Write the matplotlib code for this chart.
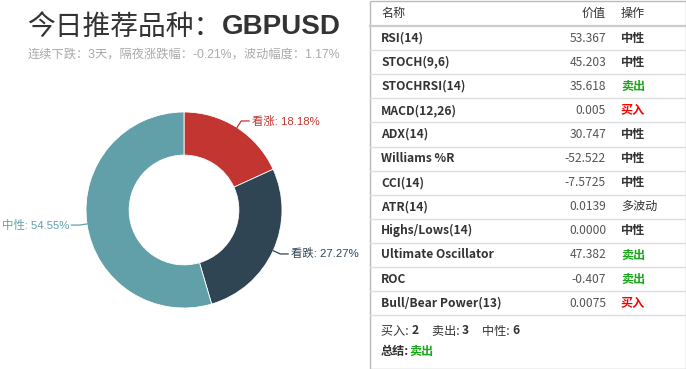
import matplotlib
matplotlib.use("Agg")
import matplotlib.pyplot as plt
from matplotlib.lines import Line2D
from matplotlib.patches import Rectangle
import numpy as np

plt.rcParams['font.family'] = ['Noto Sans CJK SC', 'DejaVu Sans']

# ---- data ----
title_cn = "今日推荐品种："
title_code = "GBPUSD"
subtitle = "连续下跌：3天，隔夜涨跌幅：-0.21%，波动幅度：1.17%"
pie_labels = ["看涨", "看跌", "中性"]
pie_values = [18.18, 27.27, 54.55]
pie_colors = ["#c23531", "#2f4554", "#61a0a8"]

ind_names = ["RSI(14)", "STOCH(9,6)", "STOCHRSI(14)", "MACD(12,26)", "ADX(14)",
             "Williams %R", "CCI(14)", "ATR(14)", "Highs/Lows(14)",
             "Ultimate Oscillator", "ROC", "Bull/Bear Power(13)"]
ind_values = ["53.367", "45.203", "35.618", "0.005", "30.747", "-52.522",
              "-7.5725", "0.0139", "0.0000", "47.382", "-0.407", "0.0075"]
ind_actions = ["中性", "中性", "卖出", "买入", "中性", "中性", "中性",
               "多波动", "中性", "卖出", "卖出", "买入"]
summary_counts = [("买入", 2), ("卖出", 3), ("中性", 6)]
summary_result = "卖出"

W, H = 686, 369
fig = plt.figure(figsize=(W / 100, H / 100), dpi=100)
fig.patch.set_facecolor("white")
r = fig.canvas.get_renderer()


def fx(x):
    return x / W


def fy(y):
    return 1 - y / H


def ftext(x, y, s, **kw):
    kw.setdefault("va", "center")
    return fig.text(fx(x), fy(y), s, **kw)


def hline(x0, x1, y, color="#dddddd", lw=1.0):
    fig.add_artist(Line2D([fx(x0), fx(x1)], [fy(y), fy(y)], color=color, lw=lw,
                          transform=fig.transFigure))


# ---- title (two parts, centred together) ----
t1 = ftext(0, 27, title_cn, fontsize=20, color="#333333", weight="medium",
           family=["Noto Sans CJK SC"])
t2 = ftext(0, 27, title_code, fontsize=20, color="#333333", weight="bold",
           family=["Liberation Sans"])
w1 = t1.get_window_extent(renderer=r).width
w2 = t2.get_window_extent(renderer=r).width
start = 184 - (w1 + w2) / 2
t1.set_x(fx(start))
t2.set_x(fx(start + w1))

ftext(184, 55, subtitle, ha="center", fontsize=8.8, color="#aaaaaa",
      family=["Liberation Sans", "Noto Sans CJK SC"])

# ---- donut ----
cx, cy, R = 184, 210, 98
ax = fig.add_axes([fx(cx - R), fy(cy + R), 2 * R / W, 2 * R / H])
ax.axis("off")
ax.pie(pie_values, colors=pie_colors, startangle=90, counterclock=False,
       radius=1.0, wedgeprops=dict(width=0.44, edgecolor="white", linewidth=0.6))
ax.set_aspect("auto")
ax.set_xlim(-1, 1)
ax.set_ylim(-1, 1)

cum = 0
total = sum(pie_values)
for lab, v, c in zip(pie_labels, pie_values, pie_colors):
    mid = 90 - (cum + v / 2) / total * 360
    cum += v
    a = np.deg2rad(mid)
    x0, y0 = np.cos(a) * 1.0, np.sin(a) * 1.0
    x1, y1 = np.cos(a) * 1.08, np.sin(a) * 1.08
    sgn = 1 if np.cos(a) >= 0 else -1
    x2 = x1 + sgn * 0.08
    ax.plot([x0, x1, x2], [y0, y1, y1], color=c, lw=0.9, clip_on=False)
    ax.text(x2 + sgn * 0.025, y1, f"{lab}: {v:.2f}%", color=c, fontsize=8.2,
            ha="left" if sgn > 0 else "right", va="center", clip_on=False,
            family=["Liberation Sans", "Noto Sans CJK SC"])

# ---- table ----
tx0, tx1 = 369.5, 685.5
fig.add_artist(Rectangle((fx(tx0), fy(368.5)), (tx1 - tx0) / W, 368 / H,
                         transform=fig.transFigure, fill=False, ec="#bbbbbb", lw=1.0))
name_x, val_x, act_x = 381, 606, 621
fs = 8.7
ftext(name_x, 13, "名称", fontsize=fs, color="#333333")
ftext(val_x, 13, "价值", fontsize=fs, color="#333333", ha="right")
ftext(act_x, 13, "操作", fontsize=fs, color="#333333")
hline(tx0, tx1, 26, color="#cccccc", lw=1.6)

action_colors = {"中性": "#333333", "卖出": "#1aa51a", "买入": "#ff0000", "多波动": "#333333"}
row_h = 24.1
for i, (n, v, a) in enumerate(zip(ind_names, ind_values, ind_actions)):
    yc = 26 + row_h * (i + 0.5)
    ftext(name_x, yc, n, fontsize=fs, color="#333333", weight="bold")
    ftext(val_x, yc, v, fontsize=fs, color="#555555", ha="right")
    ftext(act_x, yc, a, fontsize=fs, color=action_colors[a],
          weight="normal" if a == "多波动" else "bold")
    hline(tx0, tx1, 26 + row_h * (i + 1))

# summary
x = 381
ys = 331
for lab, cnt in summary_counts:
    t = ftext(x, ys, f"{lab}: ", fontsize=fs, color="#333333")
    bb = t.get_window_extent(renderer=r)
    tc = fig.text(bb.x1 / W, fy(ys), str(cnt), fontsize=fs, color="#333333",
                  weight="bold", va="center")
    bb2 = tc.get_window_extent(renderer=r)
    x = bb2.x1 + 13
t = ftext(381, 351, "总结:", fontsize=fs, color="#333333", weight="bold")
bb = t.get_window_extent(renderer=r)
fig.text(bb.x1 / W, fy(351), summary_result, fontsize=fs, color="#1aa51a",
         weight="bold", va="center")

fig.savefig("out.png", dpi=100, facecolor="white")
